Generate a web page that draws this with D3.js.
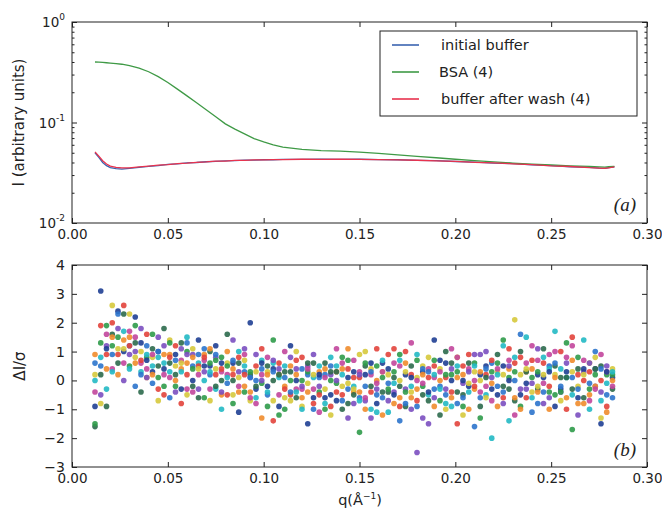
<!DOCTYPE html>
<html>
<head>
<meta charset="utf-8">
<script src="https://cdn.jsdelivr.net/npm/d3@7"></script>
<style>
  html, body { margin: 0; padding: 0; background: #fff; }
  svg { display: block; }
  text { font-family: "DejaVu Sans", sans-serif; fill: #222; }
</style>
</head>
<body>
<svg id="chart" width="662" height="512"></svg>
<script>
// ---------- DATA ----------
const xTicks = [0.00, 0.05, 0.10, 0.15, 0.20, 0.25, 0.30];
const logTicks = [1e-2, 1e-1, 1e0];
const logTickExp = ["-2", "-1", "0"];
const residTicks = [-3, -2, -1, 0, 1, 2, 3, 4];

const seriesNames = ["initial buffer", "BSA (4)", "buffer after wash (4)"];
const curveQ = [0.012,0.014,0.016,0.018,0.020,0.023,0.026,0.030,0.035,0.040,0.045,0.050,0.055,0.060,0.065,0.070,0.075,0.080,0.085,0.090,0.095,0.100,0.105,0.110,0.120,0.130,0.140,0.150,0.160,0.170,0.180,0.190,0.200,0.210,0.220,0.230,0.240,0.250,0.260,0.270,0.275,0.278,0.280,0.283];
const initialBuffer = [0.0500,0.0450,0.0400,0.0372,0.0356,0.0347,0.0343,0.0349,0.0357,0.0366,0.0373,0.0383,0.0388,0.0396,0.0400,0.0407,0.0410,0.0415,0.0417,0.0422,0.0422,0.0426,0.0426,0.0429,0.0429,0.0432,0.0430,0.0431,0.0427,0.0426,0.0420,0.0417,0.0409,0.0404,0.0395,0.0390,0.0379,0.0373,0.0363,0.0357,0.0351,0.0350,0.0356,0.0362];
const bsa = [0.400,0.398,0.396,0.393,0.390,0.386,0.380,0.368,0.348,0.320,0.286,0.250,0.215,0.184,0.157,0.134,0.114,0.097,0.086,0.077,0.069,0.064,0.060,0.057,0.054,0.0525,0.0518,0.0508,0.0492,0.0476,0.0461,0.0446,0.0431,0.0418,0.0406,0.0395,0.0386,0.0378,0.0371,0.0366,0.0362,0.0360,0.0363,0.0366];
const bufferAfterWash = [0.0510,0.0462,0.0416,0.0386,0.0368,0.0358,0.0353,0.0354,0.0361,0.0368,0.0376,0.0381,0.0390,0.0394,0.0402,0.0405,0.0412,0.0413,0.0419,0.0420,0.0424,0.0424,0.0428,0.0427,0.0431,0.0430,0.0432,0.0429,0.0428,0.0424,0.0421,0.0415,0.0411,0.0402,0.0397,0.0388,0.0381,0.0371,0.0365,0.0355,0.0352,0.0349,0.0354,0.0361];

const residQ = [0.012,0.015,0.018,0.021,0.024,0.027,0.030,0.033,0.036,0.039,
0.042,0.045,0.048,0.051,0.054,0.057,0.060,0.063,0.066,0.069,
0.072,0.075,0.078,0.081,0.084,0.087,0.090,0.093,0.096,0.099,
0.102,0.105,0.108,0.111,0.114,0.117,0.120,0.123,0.126,0.129,
0.132,0.135,0.138,0.141,0.144,0.147,0.150,0.153,0.156,0.159,
0.162,0.165,0.168,0.171,0.174,0.177,0.180,0.183,0.186,0.189,
0.192,0.195,0.198,0.201,0.204,0.207,0.210,0.213,0.216,0.219,
0.222,0.225,0.228,0.231,0.234,0.237,0.240,0.243,0.246,0.249,
0.252,0.255,0.258,0.261,0.264,0.267,0.270,0.273,0.276,0.279,
0.282];
const residA = [-0.9,0.8,1.9,1.6,0.9,1.4,2.3,1.0,0.6,1.2, 0.3,0.8,-0.2,0.6,1.2,0.4,-0.5,0.9,0.2,1.1, 0.5,-0.3,0.8,1.6,0.2,-0.4,0.7,0.1,-0.8,0.4, -0.2,0.6,-1.2,0.3,-0.5,0.2,-0.9,0.5,-0.3,0.1, -0.6,0.8,-0.1,-1.0,0.4,-0.4,0.9,-0.7,0.2,-0.5, 0.6,-1.1,0.3,-0.2,1.0,-0.6,0.1,-1.3,0.4,-0.3, 0.7,-0.8,0.2,-0.4,0.5,-1.0,0.3,0.9,-0.2,0.6, -0.5,1.2,0.1,-0.7,0.8,0.3,-0.4,1.1,-0.1,0.5, -0.9,0.4,1.3,-0.3,0.2,-0.8,0.6,-0.2,0.9,-0.5, 0.1];
const residB = [-1.6,1.9,0.4,2.6,1.8,0.6,1.2,2.2,0.3,0.8, 1.1,-0.3,0.9,1.4,-0.4,0.7,1.3,0.0,0.6,-0.6, 1.0,0.2,-0.5,0.6,1.4,-0.2,0.3,2.0,-0.6,-0.1, 0.5,-1.4,0.2,-0.6,0.8,-0.3,0.4,-1.5,0.1,-0.4, 0.6,-0.9,0.3,-0.2,-1.3,0.7,-0.6,0.2,-1.0,0.5, -0.4,0.9,-0.8,0.0,-0.3,1.3,-0.9,0.3,-0.5,0.7, -1.2,0.1,-0.6,0.8,-0.1,0.4,-1.6,0.2,-0.5,0.3, 0.9,-0.6,0.4,2.1,-0.3,0.6,-1.1,0.2,0.8,-0.4, 0.5,1.0,-0.6,0.3,-1.2,0.7,-0.1,0.4,-0.7,0.2, -0.3];
const residC = [0.2,-0.5,1.6,0.9,2.4,1.7,0.5,1.3,0.7,0.1, 0.8,1.5,0.2,-0.6,0.9,0.3,1.0,-0.2,0.5,0.9, -0.7,0.8,0.3,-0.1,0.6,1.0,-0.4,0.2,0.5,-1.3, 0.3,0.7,-0.5,0.1,1.2,-0.4,0.0,0.6,-0.8,0.3, -0.3,0.2,1.1,-0.7,0.1,-0.2,-1.8,0.5,-0.4,0.0, 0.3,-0.7,0.6,-1.4,0.2,-0.2,0.7,-0.5,0.1,-0.9, 0.4,-0.3,1.1,-0.8,0.0,-0.4,0.6,-0.9,0.2,-0.1, 0.3,-0.8,0.7,0.0,-0.5,1.5,0.1,-0.3,0.6,-1.0, 0.2,-0.4,0.8,0.1,-0.6,1.4,-0.3,0.4,0.0,-1.1, 0.4];
const residD = [0.6,3.1,-0.3,1.2,0.6,2.6,1.5,0.8,1.8,0.4, -0.1,1.0,0.6,1.3,0.2,-0.8,0.6,1.1,-0.3,0.7, 0.2,1.2,-1.0,0.5,0.0,0.8,-0.2,-0.7,0.9,0.2, -0.5,0.4,0.1,-1.0,0.3,0.7,-0.6,-0.1,0.9,-1.1, 0.2,-0.5,0.5,0.8,-0.8,0.1,-0.4,1.0,-1.3,-0.1, -0.6,0.4,-0.1,0.9,-0.9,0.2,-0.3,0.5,-1.5,0.1, -0.2,0.6,-0.9,0.3,-0.5,0.9,-0.3,0.0,1.0,-0.7, -0.2,0.5,-1.4,0.3,1.0,-0.6,0.4,-0.2,-0.8,0.9, 0.6,-0.3,0.1,-1.7,0.4,0.0,-0.5,0.8,-0.4,0.3, -0.6];
const residE = [-1.5,0.2,0.9,1.5,1.1,0.0,1.7,-0.2,1.3,0.9, 1.6,0.5,-0.5,0.9,0.5,1.1,-0.3,0.5,1.4,0.0, 0.6,-0.2,0.4,1.0,-0.5,0.3,0.9,0.1,-0.3,0.7, -0.9,0.0,0.6,-0.2,-0.7,0.4,-0.3,0.2,-0.6,0.5, -1.0,0.3,-0.4,0.4,-0.1,-0.8,0.3,-0.2,0.6,-1.1, 0.1,-0.4,1.1,-0.6,0.3,-1.0,0.0,0.4,-0.4,0.2, -0.7,1.0,-0.4,0.1,-1.2,0.3,0.0,-0.6,0.5,-2.0, 0.6,-0.2,1.1,-0.6,0.2,-0.3,1.2,-0.8,0.1,0.4, -0.5,0.1,-1.0,0.7,-0.2,0.3,-0.7,1.0,-1.5,-0.1, 0.2];
const residF = [0.9,-0.8,1.2,0.4,2.3,1.0,0.4,1.9,-0.4,1.6, 0.2,-0.7,1.2,0.1,0.7,-0.3,1.5,0.4,-0.6,0.8, 1.1,0.4,-0.4,0.2,0.7,-1.1,0.5,0.3,-0.2,1.1, 0.2,-0.7,0.4,1.0,-0.4,0.0,-1.0,0.3,0.6,-0.5, 0.4,-1.2,0.0,0.6,-0.3,0.3,-0.7,0.6,-0.2,1.1, -1.2,0.2,-0.4,0.5,-0.8,0.1,0.9,-0.2,-0.7,0.5, 0.0,-1.0,0.4,0.8,-0.6,-0.2,0.5,-1.3,0.1,0.7, -0.9,0.2,0.5,-1.2,1.6,-0.1,-0.6,0.3,1.1,-0.2, 0.1,-0.7,0.6,1.2,-0.3,0.4,-1.0,0.2,0.5,-0.9, 0.0];
const residG = [-0.4,0.5,1.1,0.3,1.5,2.3,1.2,0.6,1.0,0.1, 0.9,1.0,0.4,0.3,-0.2,1.3,0.2,0.8,0.4,0.3, -0.3,0.9,0.6,0.1,-0.8,0.6,0.2,-0.4,0.3,0.0, 0.8,0.3,-0.9,0.5,0.0,-0.6,0.8,-0.4,0.2,-0.2, 0.1,0.5,-0.7,0.2,0.7,-0.5,0.1,-1.0,0.4,-0.3, 0.3,-0.1,-0.5,0.7,-0.4,0.5,-0.7,0.2,0.8,-0.6, 0.3,-0.5,0.0,0.5,-0.9,0.6,-0.2,0.3,-0.6,0.1, 0.4,-0.4,0.0,0.8,-0.9,0.3,0.7,-0.4,0.2,-0.6, 1.0,-0.2,0.3,-0.5,0.8,-0.6,0.3,-0.2,-1.3,0.5, -0.2];
const residH = [0.0,1.3,-0.9,2.0,0.2,1.1,0.9,1.5,0.2,0.7, 0.5,0.1,1.8,0.8,0.0,0.6,0.9,-0.4,0.9,0.5, 0.3,0.7,0.0,-0.5,0.4,0.1,1.1,-0.6,0.0,0.6, -0.4,1.4,0.2,-0.3,0.5,1.0,-0.2,0.4,-1.0,0.2, -0.8,0.0,0.3,-0.5,1.1,-0.3,0.2,-0.6,0.3,-0.8, 0.7,-0.3,0.1,-0.9,0.6,-0.4,-2.5,-0.1,0.3,1.4, -0.3,0.2,0.6,-1.5,0.2,-0.1,0.9,-0.4,0.4,-0.3, 0.2,1.4,-0.3,0.6,-1.0,0.4,-0.1,0.7,-0.4,0.3, 1.7,-0.4,0.1,1.5,-0.8,0.2,0.6,-0.3,0.4,0.3, 0.3];
const residSeries = [residA, residB, residC, residD, residE, residF, residG, residH];

// ---------- STYLE ----------
const lineColors = ["#3a64b0", "#3f9a46", "#e8334e"];
const dotPalette = ["#1f3f94", "#22b9c4", "#2f9b4a", "#2c6a4c", "#e2443c", "#f08c2c", "#d6c93c", "#7b4fc0", "#c2469c", "#2c74cc"];

const svg = d3.select("#chart");
const L = 72, R = 647;
const topY0 = 22, topY1 = 223;
const botY0 = 265, botY1 = 467;

const x = d3.scaleLinear().domain([0, 0.30]).range([L, R]);
const yLog = d3.scaleLog().domain([0.01, 1]).range([topY1, topY0]);
const yRes = d3.scaleLinear().domain([-3, 4]).range([botY1, botY0]);

const fmt = d3.format(".2f");

function xAxes(y0, y1) {
  const gB = svg.append("g").attr("transform", `translate(0,${y1})`)
    .call(d3.axisBottom(x).tickValues(xTicks).tickFormat(fmt).tickSizeInner(-5).tickSizeOuter(0).tickPadding(6));
  gB.select(".domain").remove();
  gB.selectAll("line").attr("stroke", "#222");
  gB.selectAll("text").attr("font-size", 13.5).attr("font-family", "DejaVu Sans").attr("fill", "#222");
  const gT = svg.append("g").attr("transform", `translate(0,${y0})`)
    .call(d3.axisTop(x).tickValues(xTicks).tickFormat("").tickSizeInner(-5).tickSizeOuter(0));
  gT.select(".domain").remove();
  gT.selectAll("line").attr("stroke", "#222");
}

// ---------- TOP PANEL ----------
svg.append("defs").append("clipPath").attr("id", "clipTop")
  .append("rect").attr("x", L).attr("y", topY0).attr("width", R - L).attr("height", topY1 - topY0);

const line = d3.line().x(d => x(d[0])).y(d => yLog(d[1]));
const curves = [initialBuffer, bsa, bufferAfterWash];
curves.forEach((vals, k) => {
  svg.append("path")
    .datum(curveQ.map((q, i) => [q, vals[i]]))
    .attr("clip-path", "url(#clipTop)")
    .attr("fill", "none").attr("stroke", lineColors[k]).attr("stroke-width", 1.3)
    .attr("d", line);
});

xAxes(topY0, topY1);

const minor = [];
[0.01, 0.1].forEach(base => { for (let m = 2; m <= 9; m++) minor.push(base * m); });
function yTicks(axisFn, xPos, values, size) {
  const g = svg.append("g").attr("transform", `translate(${xPos},0)`)
    .call(axisFn(yLog).tickValues(values).tickFormat("").tickSizeInner(-size).tickSizeOuter(0));
  g.select(".domain").remove();
  g.selectAll("line").attr("stroke", "#222");
}
yTicks(d3.axisLeft, L, logTicks, 5);
yTicks(d3.axisLeft, L, minor, 2.5);
yTicks(d3.axisRight, R, logTicks, 5);
yTicks(d3.axisRight, R, minor, 2.5);

logTicks.forEach((v, i) => {
  const t = svg.append("text").attr("x", L - 7).attr("y", yLog(v) + 5)
    .attr("text-anchor", "end").attr("font-size", 13.5);
  t.append("tspan").text("10");
  t.append("tspan").attr("font-size", 9).attr("dy", -7).text(logTickExp[i]);
});

svg.append("rect").attr("x", L).attr("y", topY0).attr("width", R - L).attr("height", topY1 - topY0)
  .attr("fill", "none").attr("stroke", "#222").attr("stroke-width", 1);

svg.append("text").attr("transform", `translate(24,${(topY0 + topY1) / 2}) rotate(-90)`)
  .attr("text-anchor", "middle").attr("font-size", 15).text("I (arbitrary units)");

svg.append("text").attr("x", 636).attr("y", 211).attr("text-anchor", "end")
  .style("font-family", "Liberation Serif, serif")
  .attr("font-style", "italic").attr("font-size", 19).text("(a)");

// legend
const lg = svg.append("g");
lg.append("rect").attr("x", 380).attr("y", 31).attr("width", 257).attr("height", 85)
  .attr("fill", "#fff").attr("stroke", "#222").attr("stroke-width", 1);
seriesNames.forEach((name, k) => {
  const yy = 45 + k * 27;
  lg.append("line").attr("x1", 392).attr("x2", 419).attr("y1", yy).attr("y2", yy)
    .attr("stroke", lineColors[k]).attr("stroke-width", 1.6);
  lg.append("text").attr("x", k === 1 ? 439 : 441).attr("y", yy + 5).attr("font-size", 14.5).text(name);
});

// ---------- BOTTOM PANEL ----------
svg.append("defs").append("clipPath").attr("id", "clipBot")
  .append("rect").attr("x", L).attr("y", botY0).attr("width", R - L).attr("height", botY1 - botY0);

const dots = svg.append("g").attr("clip-path", "url(#clipBot)");
residSeries.forEach((vals, k) => {
  dots.selectAll(null).data(vals.map((v, i) => ({ q: residQ[i], v, i })))
    .join("circle")
    .attr("cx", d => x(d.q))
    .attr("cy", d => yRes(d.v))
    .attr("r", 2.8)
    .attr("fill", d => dotPalette[(k * 3 + d.i) % dotPalette.length])
    .attr("fill-opacity", 0.9);
});

xAxes(botY0, botY1);

const fmtMinus = d => (d < 0 ? "\u2212" + Math.abs(d) : String(d));
const gRL = svg.append("g").attr("transform", `translate(${L},0)`)
  .call(d3.axisLeft(yRes).tickValues(residTicks).tickFormat(fmtMinus).tickSizeInner(-5).tickSizeOuter(0).tickPadding(7));
gRL.select(".domain").remove();
gRL.selectAll("line").attr("stroke", "#222");
gRL.selectAll("text").attr("font-size", 14).attr("font-family", "DejaVu Sans").attr("fill", "#222");
const gRR = svg.append("g").attr("transform", `translate(${R},0)`)
  .call(d3.axisRight(yRes).tickValues(residTicks).tickFormat("").tickSizeInner(-5).tickSizeOuter(0));
gRR.select(".domain").remove();
gRR.selectAll("line").attr("stroke", "#222");

svg.append("rect").attr("x", L).attr("y", botY0).attr("width", R - L).attr("height", botY1 - botY0)
  .attr("fill", "none").attr("stroke", "#222").attr("stroke-width", 1);

svg.append("text").attr("transform", `translate(25,${(botY0 + botY1) / 2}) rotate(-90)`)
  .attr("text-anchor", "middle").attr("font-size", 15).text("\u0394I/\u03c3");

svg.append("text").attr("x", 636).attr("y", 456).attr("text-anchor", "end")
  .style("font-family", "Liberation Serif, serif")
  .attr("font-style", "italic").attr("font-size", 19).text("(b)");

const xt = svg.append("text").attr("x", 360).attr("y", 505).attr("text-anchor", "middle").attr("font-size", 14.5);
xt.append("tspan").text("q(\u00c5");
xt.append("tspan").attr("font-size", 9).attr("dy", -6).text("\u22121");
xt.append("tspan").attr("dy", 6).text(")");
</script>
</body>
</html>
